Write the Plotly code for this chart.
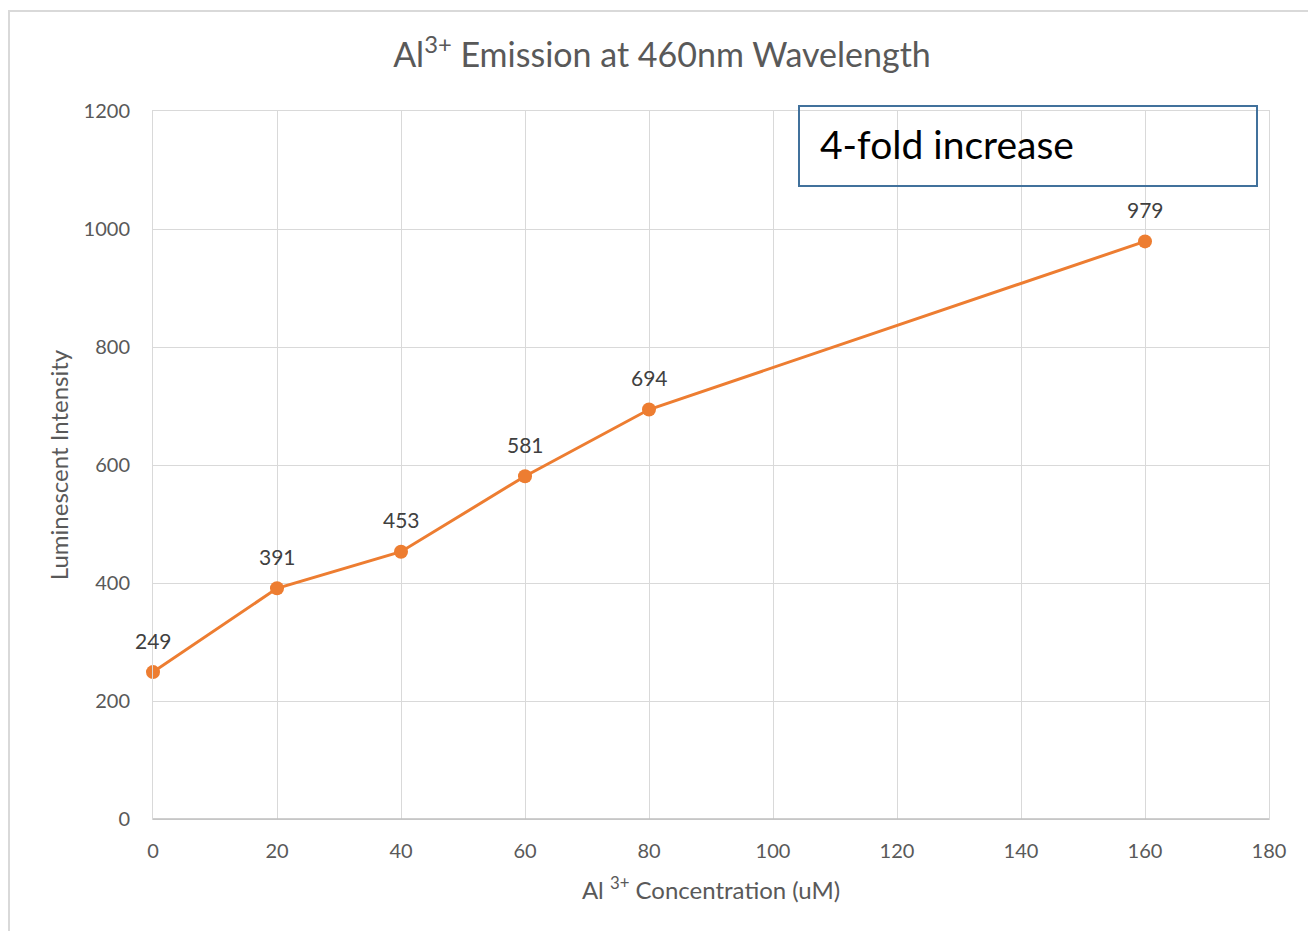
import plotly.graph_objects as go

concentration = [0, 20, 40, 60, 80, 160]
intensity = [249, 391, 453, 581, 694, 979]
x_ticks = [0, 20, 40, 60, 80, 100, 120, 140, 160, 180]
y_ticks = [0, 200, 400, 600, 800, 1000, 1200]

FONT = "Lato"
W, H = 1308, 931
L, R, T, B = 153, 1269, 111, 819

def px(x):
    return (x - L) / (R - L)

def py(y):
    return (B - y) / (B - T)

fig = go.Figure()
fig.add_trace(go.Scatter(
    x=concentration, y=intensity,
    mode="lines+markers",
    line=dict(color="#ED7D31", width=3),
    marker=dict(color="#ED7D31", size=14),
    cliponaxis=False,
    showlegend=False,
))

annotations = [
    dict(x=cx, y=cy, xref="x", yref="y", text=str(cy), showarrow=False,
         yshift=32, xanchor="center", yanchor="middle",
         font=dict(family=FONT, size=21, color="#404040"))
    for cx, cy in zip(concentration, intensity)
]
annotations.append(
    dict(text="4-fold increase", xref="paper", yref="paper",
         x=px(818), y=py(144), xanchor="left", yanchor="middle",
         showarrow=False, font=dict(family=FONT, size=39, color="#000000"))
)

fig.update_layout(
    width=W, height=H,
    margin=dict(l=L, r=W - R, t=T, b=H - B),
    paper_bgcolor="white", plot_bgcolor="white",
    font=dict(family=FONT, color="#595959"),
    title=dict(
        text="Al<sup>3+</sup> Emission at 460nm Wavelength",
        x=px(662), xref="paper", xanchor="center",
        y=1 - 55 / H, yanchor="middle",
        font=dict(family=FONT, size=34, color="#595959"),
    ),
    xaxis=dict(
        range=[0, 180], tickvals=x_ticks, showgrid=True, gridcolor="#d9d9d9", gridwidth=1,
        zeroline=False, showline=True, linecolor="#d9d9d9", mirror=True,
        ticks="", ticklabelstandoff=14,
        tickfont=dict(family=FONT, size=20, color="#595959"),
        title=dict(text="Al <sup>3+</sup> Concentration (uM)", standoff=21,
                   font=dict(family=FONT, size=24, color="#595959")),
    ),
    yaxis=dict(
        range=[0, 1200], tickvals=y_ticks, showgrid=True, gridcolor="#d9d9d9", gridwidth=1,
        zeroline=False, showline=True, linecolor="#d9d9d9", mirror=True,
        ticks="", ticklabelstandoff=18,
        tickfont=dict(family=FONT, size=20, color="#595959"),
        title=dict(text="Luminescent Intensity", standoff=8,
                   font=dict(family=FONT, size=24, color="#595959")),
    ),
    shapes=[
        dict(type="rect", xref="paper", yref="paper",
             x0=px(9), x1=px(1330), y0=py(960), y1=py(11),
             line=dict(color="#d9d9d9", width=2), layer="below"),
        dict(type="line", xref="paper", yref="paper",
             x0=0, x1=1, y0=0, y1=0, line=dict(color="#bfbfbf", width=1.5)),
        dict(type="rect", xref="paper", yref="paper",
             x0=px(799), x1=px(1257), y0=py(186), y1=py(106),
             line=dict(color="#41719C", width=2), fillcolor="rgba(0,0,0,0)"),
    ],
    annotations=annotations,
)

fig.write_html("out.html")
